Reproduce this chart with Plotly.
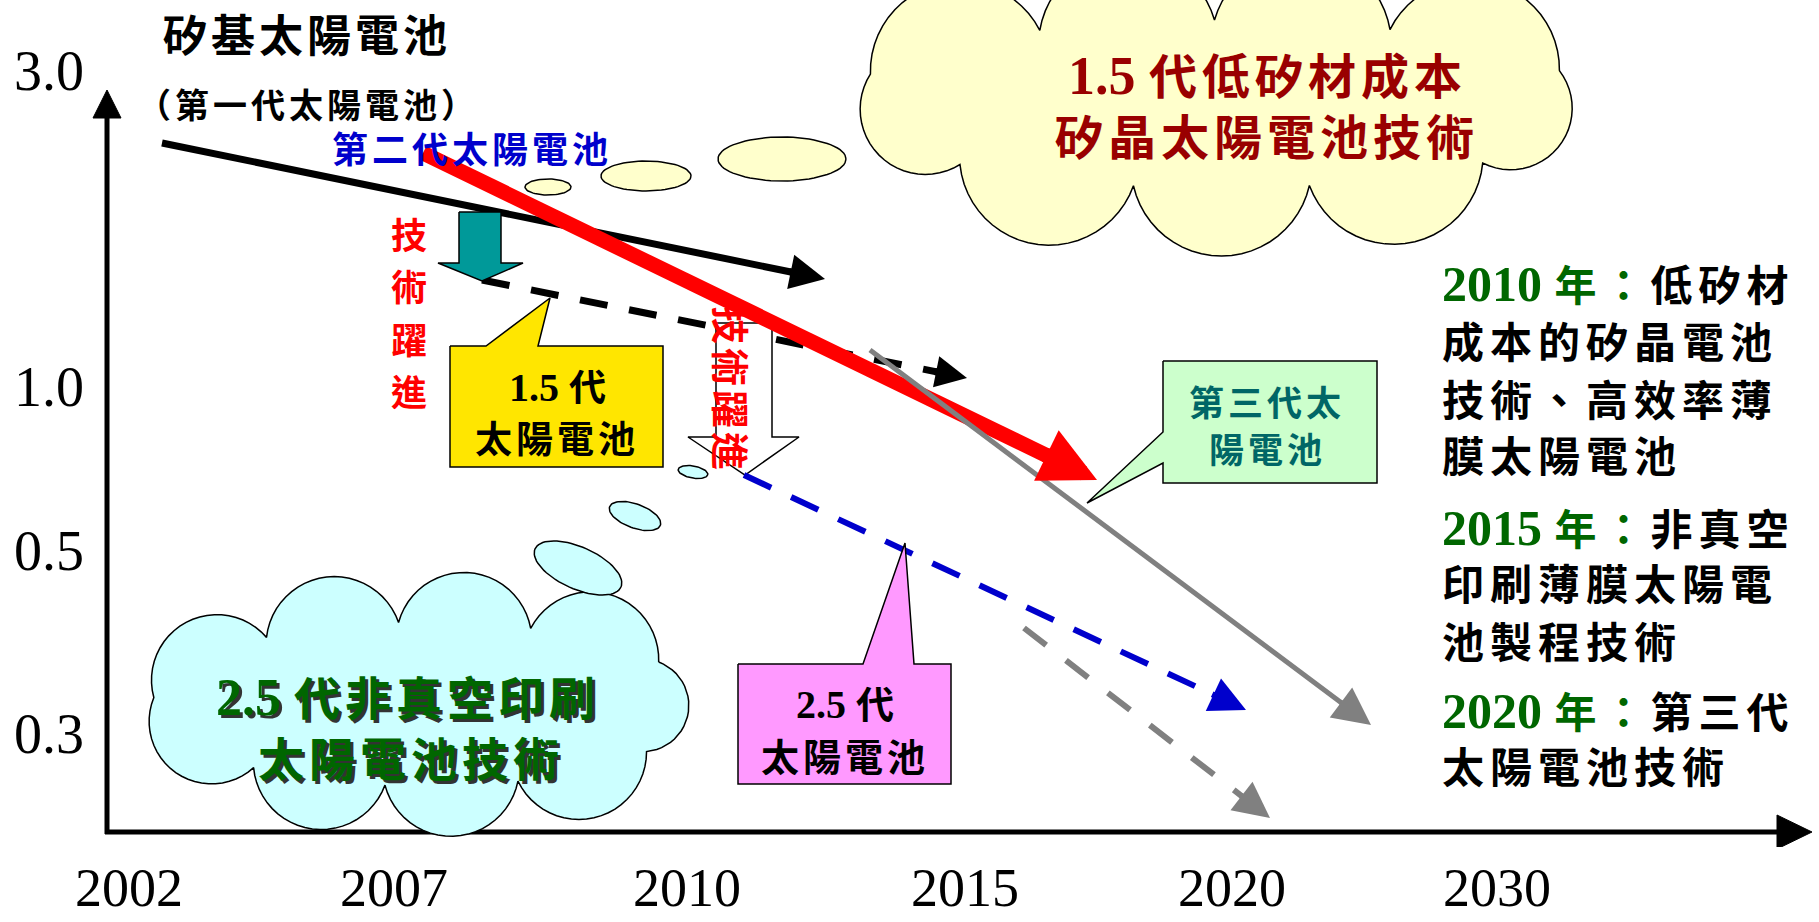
import math
import plotly.graph_objects as go

# ---------------- values ----------------
YEARS = ["2002", "2007", "2010", "2015", "2020", "2030"]
YEAR_POS = [0.22, 2.87, 5.80, 8.58, 11.25, 13.90]
LEVELS = ["3.0", "1.0", "0.5", "0.3"]
LEVEL_POS = [7.62, 4.46, 2.82, 0.99]

TREND_NAMES = ["第一代太陽電池", "1.5代太陽電池", "第二代太陽電池",
               "第三代太陽電池", "2.5代太陽電池", "2.5代延伸"]
TREND_X0 = [0.55, 3.75, 3.16, 7.63, 6.37, 9.17]
TREND_Y0 = [6.89, 5.52, 6.79, 4.82, 3.57, 2.04]
TREND_X1 = [7.18, 8.60, 9.90, 12.64, 11.39, 11.63]
TREND_Y1 = [5.53, 4.54, 3.52, 1.07, 1.22, 0.14]

NOTE_YEARS = ["2010", "2015", "2020"]
NOTE_LINES = [["低矽材", "成本的矽晶電池", "技術、高效率薄", "膜太陽電池"],
              ["非真空", "印刷薄膜太陽電", "池製程技術"],
              ["第三代", "太陽電池技術"]]

# ---------------- styles ----------------
TREND_STYLE = [
    dict(color="#000000", width=7, dash="solid", head=1.0),
    dict(color="#000000", width=7, dash="28px,22px", head=0.9),
    dict(color="#FF0000", width=15, dash="solid", head=0.75),
    dict(color="#808080", width=5, dash="solid", head=1.5),
    dict(color="#0000CC", width=6, dash="30px,22px", head=1.2),
    dict(color="#808080", width=6, dash="28px,25px", head=1.2),
]
CJK = "Noto Sans CJK TC"
MIX = "Liberation Serif, Noto Sans CJK TC"


# layout helpers: decoration placement (pixel -> axis units)
def dx(px):
    return (px - 107) / 100.0


def dy(py):
    return (832 - py) / 100.0


def sp(text, s, extra=""):
    return f'<span style="letter-spacing:{s}px;{extra}">{text}</span>'


fig = go.Figure()


def poly(pts, fill, lw=1.5, lc="#000000"):
    xs = [dx(p[0]) for p in pts] + [dx(pts[0][0])]
    ys = [dy(p[1]) for p in pts] + [dy(pts[0][1])]
    fig.add_trace(go.Scatter(x=xs, y=ys, mode="lines", fill="toself",
                             fillcolor=fill, line=dict(color=lc, width=lw),
                             hoverinfo="skip", showlegend=False))


def ellipse(cx, cy, rx, ry, rot=0, n=72):
    r = math.radians(rot)
    pts = []
    for i in range(n):
        t = 2 * math.pi * i / n
        x = rx * math.cos(t)
        y = ry * math.sin(t)
        pts.append((cx + x * math.cos(r) - y * math.sin(r),
                    cy + x * math.sin(r) + y * math.cos(r)))
    return pts


def cloud(cx, cy, a, b, n, ratio, offset=0.0):
    M = 2000
    ep = [(cx + a * math.cos(2 * math.pi * i / M),
           cy - b * math.sin(2 * math.pi * i / M)) for i in range(M + 1)]
    cum = [0.0]
    for i in range(1, M + 1):
        cum.append(cum[-1] + math.dist(ep[i], ep[i - 1]))
    total = cum[-1]
    bpts = []
    for k in range(n):
        s = ((offset + k / n) % 1.0) * total
        j = min(range(M + 1), key=lambda q: abs(cum[q] - s))
        bpts.append(ep[j])
    out = []
    for k in range(n):
        p0 = bpts[k]
        p1 = bpts[(k + 1) % n]
        mx, my = (p0[0] + p1[0]) / 2, (p0[1] + p1[1]) / 2
        c = math.dist(p0, p1)
        nx, ny = (p1[1] - p0[1]) / c, -(p1[0] - p0[0]) / c
        if nx * (mx - cx) + ny * (my - cy) < 0:
            nx, ny = -nx, -ny
        h = ratio * c
        R = (c * c / 4 + h * h) / (2 * h)
        ccx, ccy = mx + nx * (h - R), my + ny * (h - R)
        a0 = math.atan2(p0[1] - ccy, p0[0] - ccx)
        a1 = math.atan2(p1[1] - ccy, p1[0] - ccx)
        am = math.atan2(my + ny * h - ccy, mx + nx * h - ccx)
        d1 = (a1 - a0) % (2 * math.pi)
        dm = (am - a0) % (2 * math.pi)
        sweep = d1 if dm < d1 else d1 - 2 * math.pi
        for j in range(24):
            aa = a0 + sweep * j / 24
            out.append((ccx + R * math.cos(aa), ccy + R * math.sin(aa)))
    return out


# ---- clouds and thought bubbles ----
poly(cloud(1218, 104, 372, 84, 9, 0.40, 0.03), "#FFFFCC")
for (cx, cy, rx, ry) in [(548, 187, 23, 8), (646, 176, 45, 15), (782, 159, 64, 22)]:
    poly(ellipse(cx, cy, rx, ry), "#FFFFCC")
poly(cloud(425, 704, 272, 82, 9, 0.40, 0.05), "#CCFFFF")
for (cx, cy, rx, ry, rot) in [(693, 472, 15, 6, 10), (635, 516, 27, 12, 20), (578, 568, 47, 21, 24)]:
    poly(ellipse(cx, cy, rx, ry, rot), "#CCFFFF")


# ---- trend lines ----
def trend(i):
    st = TREND_STYLE[i]
    x0, y0, x1, y1 = TREND_X0[i], TREND_Y0[i], TREND_X1[i], TREND_Y1[i]
    L = math.hypot(x1 - x0, y1 - y0)
    ux, uy = (x1 - x0) / L, (y1 - y0) / L
    scale = st["width"] * st["head"]
    hl = 5 * scale / 100.0
    fig.add_trace(go.Scatter(x=[x0, x1 - ux * hl * 0.6], y=[y0, y1 - uy * hl * 0.6],
                             mode="lines", name=TREND_NAMES[i],
                             line=dict(color=st["color"], width=st["width"], dash=st["dash"]),
                             hoverinfo="skip", showlegend=False))
    fig.add_annotation(x=x1, y=y1, ax=x1 - ux * (hl + 0.03), ay=y1 - uy * (hl + 0.03),
                       xref="x", yref="y", axref="x", ayref="y", text="",
                       showarrow=True, arrowhead=2, arrowsize=st["head"],
                       arrowwidth=st["width"], arrowcolor=st["color"], standoff=0)


trend(0)
trend(1)
# teal block arrow
poly([(459, 212), (501, 212), (501, 263), (523, 263), (482, 281), (438, 263), (459, 263)], "#009999")
# white block arrow
poly([(716, 323), (772, 323), (772, 437), (799, 437), (745, 475), (688, 437), (716, 437)], "#FFFFFF")
trend(2)
trend(3)
trend(4)
trend(5)

# ---- callout boxes ----
poly([(450, 346), (486, 346), (550, 298), (538, 346), (663, 346), (663, 467), (450, 467)], "#FFE600")
poly([(738, 664), (863, 664), (905, 543), (914, 664), (951, 664), (951, 784), (738, 784)], "#FF99FF")
poly([(1163, 361), (1377, 361), (1377, 483), (1163, 483), (1163, 463), (1087, 503), (1163, 432)], "#CCFFCC")

# ---- axes lines and arrow heads (shapes below traces) ----
fig.add_shape(type="line", x0=dx(107), y0=dy(834), x1=dx(107), y1=dy(116),
              line=dict(color="black", width=5), layer="below")
fig.add_shape(type="line", x0=dx(105), y0=dy(832), x1=dx(1782), y1=dy(832),
              line=dict(color="black", width=5), layer="below")
fig.add_shape(type="path", path=f"M{dx(93)},{dy(118)} L{dx(121)},{dy(118)} L{dx(107)},{dy(90)} Z",
              fillcolor="black", line=dict(color="black", width=1), layer="below")
fig.add_shape(type="path", path=f"M{dx(1777)},{dy(815)} L{dx(1777)},{dy(849)} L{dx(1812)},{dy(832)} Z",
              fillcolor="black", line=dict(color="black", width=1), layer="below")


# ---- texts ----
def txt(text, px, py, size, color="#000000", weight="normal", family=CJK, angle=0,
        xanchor="center"):
    fig.add_annotation(x=dx(px), y=dy(py), xref="x", yref="y", text=text, showarrow=False,
                       xanchor=xanchor, yanchor="middle", textangle=angle,
                       font=dict(family=family, size=size, color=color, weight=weight))


def num_cjk(num, cjk, s, numsize=None, col=None):
    extra = f"font-size:{numsize}px;" if numsize else ""
    if col:
        extra += f"color:{col};"
    c2 = f"color:{col};" if col else ""
    return (f'<span style="{extra}">{num} </span>' + sp(cjk, s, c2))


txt(sp("矽基太陽電池", 4), 307, 33, 44, weight="bold")
txt(sp("（第一代太陽電池）", 4), 308, 103, 34, weight="bold")
txt(sp("第二代太陽電池", 4), 472, 147, 36, color="#0000CC", weight="bold")
for k, ch in enumerate("技術躍進"):
    txt(ch, 409, [233, 285, 338, 390][k], 36, color="#FF0000", weight="bold")
txt(sp("技術躍進", 4), 733, 390, 38, color="#FF0000", weight="bold", angle=90)

txt(num_cjk("1.5", "代", 0, 40), 557, 387, 37, weight="bold", family=MIX)
txt(sp("太陽電池", 4), 557, 437, 37, weight="bold")
txt(num_cjk("2.5", "代", 0, 40), 845, 704, 38, weight="bold", family=MIX)
txt(sp("太陽電池", 4), 845, 754, 38, weight="bold")
txt(sp("第三代太", 4), 1267, 400, 35, color="#006666", weight="bold")
txt(sp("陽電池", 4), 1267, 447, 35, color="#006666", weight="bold")

txt(num_cjk("1.5", "代低矽材成本", 5, 54), 1267, 76, 48, color="#990000", weight="bold", family=MIX)
txt(sp("矽晶太陽電池技術", 5), 1267, 138, 48, color="#990000", weight="bold", family=MIX)

for off, col in [(3, "#333333"), (0, "#006600")]:
    txt(num_cjk("2.5", "代非真空印刷", 5, 52), 408 + off, 697 + off, 46, color=col, weight="bold", family=MIX)
    txt(sp("太陽電池技術", 5), 411 + off, 760 + off, 46, color=col, weight="bold", family=MIX)

NOTE_Y = [[284, 344, 402, 458], [528, 586, 644], [711, 769]]
for g in range(3):
    for k, line in enumerate(NOTE_LINES[g]):
        if k == 0:
            t = (f'<span style="color:#006600;font-size:50px">{NOTE_YEARS[g]} </span>'
                 + sp("年：", 6, "color:#006600;") + sp(line, 6))
        else:
            t = sp(line, 6)
        txt(t, 1440, NOTE_Y[g][k], 42, weight="bold", family=MIX, xanchor="left")

fig.update_layout(
    width=1819, height=922,
    margin=dict(l=87, r=0, t=0, b=75, autoexpand=False),
    paper_bgcolor="white", plot_bgcolor="white",
    showlegend=False,
    xaxis=dict(range=[-0.20, 17.12], tickvals=YEAR_POS, ticktext=YEARS,
               showgrid=False, zeroline=False, showline=False, ticks="",
               tickfont=dict(family="Liberation Serif", size=54, color="black"),
               ticklabelstandoff=4, fixedrange=True, automargin=False),
    yaxis=dict(range=[-0.15, 8.32], tickvals=LEVEL_POS, ticktext=LEVELS,
               showgrid=False, zeroline=False, showline=False, ticks="",
               tickfont=dict(family="Liberation Serif", size=56, color="black"),
               ticklabelstandoff=2, fixedrange=True, automargin=False),
)

fig.write_html("out.html", config={"displayModeBar": False},
               post_script="document.body.style.margin='0';document.body.style.overflow='hidden';")
